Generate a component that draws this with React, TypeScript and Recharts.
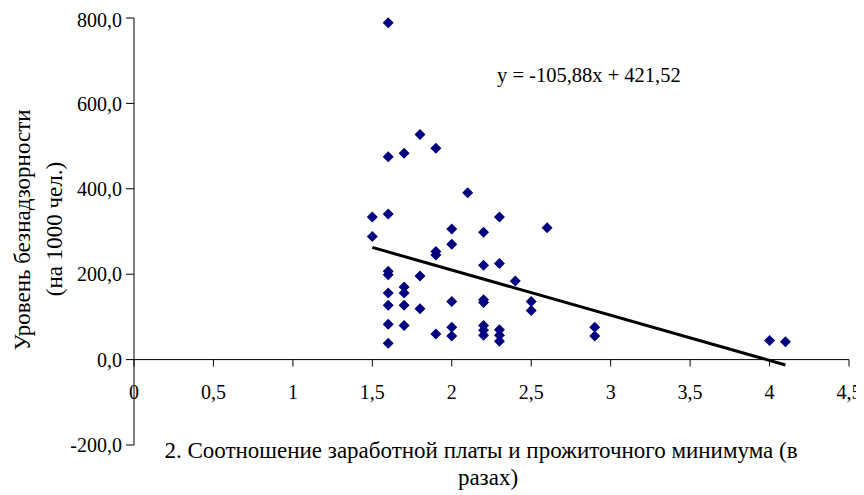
import React from 'react';
import { ScatterChart, Scatter, XAxis, YAxis, ReferenceLine } from 'recharts';

// Соотношение заработной платы и прожиточного минимума (в разах)
const ratio = [
  1.6, 1.8, 1.9, 1.7, 1.6, 2.1, 1.5, 1.6, 2.3, 1.5,
  2.0, 2.2, 2.6, 2.0, 1.9, 1.9, 1.6, 1.6, 1.8, 2.2,
  2.3, 2.4, 1.7, 1.7, 1.6, 1.6, 1.7, 1.8, 2.0, 2.2,
  2.2, 2.5, 2.5, 1.6, 1.7, 1.9, 2.0, 2.0, 2.2, 2.2,
  2.2, 2.3, 2.3, 2.3, 1.6, 2.9, 2.9, 4.0, 4.1,
];
// Уровень безнадзорности (на 1000 чел.)
const rate = [
  789, 527, 495, 483, 475, 391, 334, 341, 334, 288,
  306, 298, 309, 270, 253, 245, 207, 199, 196, 221,
  225, 184, 170, 156, 156, 127, 127, 119, 136, 140,
  134, 136, 115, 83, 80, 60, 76, 55, 80, 69,
  57, 70, 57, 43, 38, 76, 55, 45, 42,
];

const xTicks = [0, 0.5, 1, 1.5, 2, 2.5, 3, 3.5, 4, 4.5];
const yTicks = [-200, 0, 200, 400, 600, 800];

const trendSlope = -105.88;
const trendIntercept = 421.52;
const trendRange = [1.5, 4.1];

const equationText = 'y = -105,88x + 421,52';
const xTitle1 = '2. Соотношение заработной платы и прожиточного минимума (в';
const xTitle2 = 'разах)';
const yTitle1 = 'Уровень безнадзорности';
const yTitle2 = '(на 1000 чел.)';

const points = ratio.map((x, i) => ({ x, y: rate[i] }));
const trendSegment = trendRange.map((x) => ({ x, y: trendSlope * x + trendIntercept }));

const FONT = '"Liberation Serif", "Times New Roman", serif';
const FS = 20;
const TITLE_FS = 23;
const EQ_FS = 20.5;
const TICK_DOWN = -16;

const fmtX = (v: number) => String(v).replace('.', ',');
const fmtY = (v: number) => v.toFixed(1).replace('.', ',');

const Diamond = (props: any) => {
  const { cx, cy } = props;
  const r = 5.5;
  return (
    <polygon
      points={`${cx},${cy - r} ${cx + r},${cy} ${cx},${cy + r} ${cx - r},${cy}`}
      fill="#000080"
    />
  );
};

const Titles = () => (
  <g fontFamily={FONT} fill="#000">
    <g fontSize={TITLE_FS}>
      <text x={14} y={222} transform="rotate(-90 14 222)" textAnchor="middle" dominantBaseline="central">
        {yTitle1}
      </text>
      <text x={46} y={221} transform="rotate(-90 46 221)" textAnchor="middle" dominantBaseline="central">
        {yTitle2}
      </text>
      <text x={473} y={450} textAnchor="middle">{xTitle1}</text>
      <text x={480} y={477} textAnchor="middle">{xTitle2}</text>
    </g>
    <text x={489} y={74} fontSize={EQ_FS}>{equationText}</text>
  </g>
);

const pageCss = `
html, body { overflow: hidden; }
.recharts-wrapper, .recharts-surface { overflow: visible !important; }
`;

export default function App() {
  return (
    <div style={{ width: 856, height: 487 }}>
      <style>{pageCss}</style>
      <ScatterChart
        width={856}
        height={487}
        margin={{ top: 10, right: 15, bottom: 0, left: 0 }}
        style={{ background: '#fff' }}
      >
        <XAxis
          type="number"
          dataKey="x"
          domain={[0, 4.5]}
          ticks={xTicks}
          axisLine={false}
          tick={false}
          tickLine={false}
          height={50}
        />
        <YAxis
          type="number"
          dataKey="y"
          domain={[-200, 800]}
          ticks={yTicks}
          tickFormatter={fmtY}
          width={126}
          axisLine={{ stroke: '#000', strokeWidth: 1 }}
          tickLine={{ stroke: '#000', strokeWidth: 1 }}
          tickSize={8}
          tickMargin={4}
          tick={{ fill: '#000', fontSize: FS, fontFamily: FONT }}
          label={{ content: () => <Titles /> }}
        />
        <ReferenceLine y={0} stroke="#000" strokeWidth={1} />
        {xTicks.map((t) => (
          <ReferenceLine
            key={t}
            segment={[{ x: t, y: 0 }, { x: t, y: TICK_DOWN }]}
            stroke="#000"
            strokeWidth={1}
            label={{
              value: fmtX(t),
              position: 'bottom',
              offset: 18,
              fill: '#000',
              fontSize: FS,
              fontFamily: FONT,
            }}
          />
        ))}
        <ReferenceLine
          segment={[trendSegment[0], trendSegment[1]]}
          stroke="#000"
          strokeWidth={3}
        />
        <Scatter data={points} shape={Diamond} isAnimationActive={false} />
      </ScatterChart>
    </div>
  );
}
